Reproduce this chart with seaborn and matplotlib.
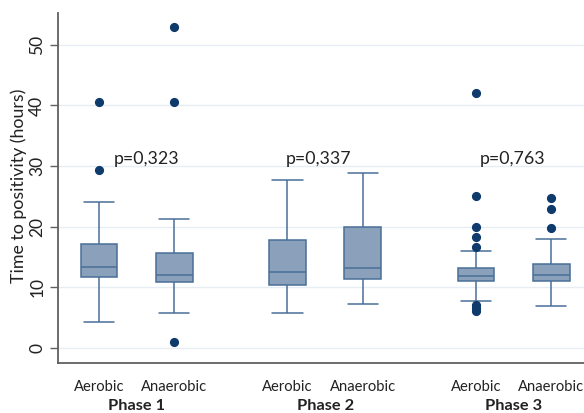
import matplotlib
matplotlib.use("Agg")
import matplotlib.pyplot as plt
import numpy as np
import pandas as pd
import seaborn as sns

# ---- values ----
phases = ["Phase 1", "Phase 2", "Phase 3"]
cultures = ["Aerobic", "Anaerobic"]
# order of boxes: P1 Aerobic, P1 Anaerobic, P2 Aerobic, P2 Anaerobic, P3 Aerobic, P3 Anaerobic
whisker_low = [4.25, 5.7, 5.7, 7.2, 7.7, 6.9]
q1 = [11.6, 10.9, 10.4, 11.35, 10.95, 11.0]
median = [13.4, 12.0, 12.55, 13.2, 11.9, 12.0]
q3 = [17.1, 15.6, 17.8, 19.9, 13.15, 13.85]
whisker_high = [24.0, 21.3, 27.75, 28.9, 16.0, 17.95]
outliers_low = [[], [1.0], [], [], [7.0, 6.5, 6.1], []]
outliers_high = [[29.35, 40.6], [40.6, 52.9], [], [],
                 [16.6, 18.2, 20.0, 25.0, 42.1], [19.8, 22.9, 24.8]]
p_values = ["p=0,323", "p=0,337", "p=0,763"]
y_ticks = [0, 10, 20, 30, 40, 50]
y_label = "Time to positivity (hours)"


def box_sample(lo_out, lo, a1, m, a3, hi, hi_out):
    below = sorted(lo_out) + [lo]
    above = [hi] + sorted(hi_out)
    k = max(len(below), len(above))
    n = 4 * k + 1
    return (below + [a1] * (k - len(below) + 1) + [m] * k
            + [a3] * (n - (2 * k + 1) - len(above)) + above)


rows = []
idx = 0
for ph in phases:
    for cu in cultures:
        vals = box_sample(outliers_low[idx], whisker_low[idx], q1[idx], median[idx],
                          q3[idx], whisker_high[idx], outliers_high[idx])
        rows += [(ph, cu, v) for v in vals]
        idx += 1
df = pd.DataFrame(rows, columns=["phase", "culture", "hours"])

# ---- style ----
sns.set_style("white")
plt.rcParams["font.family"] = ["Lato", "DejaVu Sans"]
fill = "#8ba0ba"
edge = "#4a6f98"
navy = "#0e3a6c"
grid = "#e6edf4"
spine = "#606060"
txt = "#222222"

fig, ax = plt.subplots(figsize=(5.84, 4.13), dpi=100)
fig.subplots_adjust(left=0.0988, right=1.0, bottom=0.1203, top=0.969)

sns.boxplot(data=df, x="phase", y="hours", hue="culture",
            order=phases, hue_order=cultures,
            palette=[fill, fill], saturation=1,
            width=0.8, gap=0.51, linecolor=edge, linewidth=1.1,
            capwidths=0.16,
            flierprops=dict(marker="o", markerfacecolor=navy,
                            markeredgecolor=navy, markersize=5.6),
            legend=False, ax=ax)

ax.set_xlim(-0.419, 2.373)
ax.set_ylim(-2.58, 55.3)

# y axis
ax.set_yticks(y_ticks)
ax.tick_params(axis="y", length=6, width=1, color=spine, pad=3,
               labelsize=12.5, labelcolor=txt, left=True)
for lab in ax.get_yticklabels():
    lab.set_rotation(90)
    lab.set_va("center")
ax.set_ylabel(y_label, fontsize=12.8, color=txt)
ax.yaxis.set_label_coords(-0.058, 0.506)
ax.yaxis.grid(True, color=grid, linewidth=1)
ax.set_axisbelow(True)

# x axis: culture labels (minor) and phase labels (major)
ax.set_xticks(range(len(phases)))
ax.set_xticklabels(phases, fontweight="bold", fontsize=11.8)
ax.set_xticks([i + d for i in range(len(phases)) for d in (-0.2, 0.2)], minor=True)
ax.set_xticklabels(cultures * len(phases), minor=True, fontsize=10.6)
ax.tick_params(axis="x", which="both", length=0, labelcolor=txt)
ax.tick_params(axis="x", which="major", pad=25.5)
ax.tick_params(axis="x", which="minor", pad=12)
ax.set_xlabel("")

for s in ["top", "right"]:
    ax.spines[s].set_visible(False)
for s in ["left", "bottom"]:
    ax.spines[s].set_color(spine)
    ax.spines[s].set_linewidth(1.3)

# p-value annotations
p_offsets = [0.055, -0.035, -0.005]
for i, p in enumerate(p_values):
    ax.text(i + p_offsets[i], 31.1, p, ha="center", va="center",
            fontsize=12.8, color=txt)

fig.savefig("out.png", dpi=100)
